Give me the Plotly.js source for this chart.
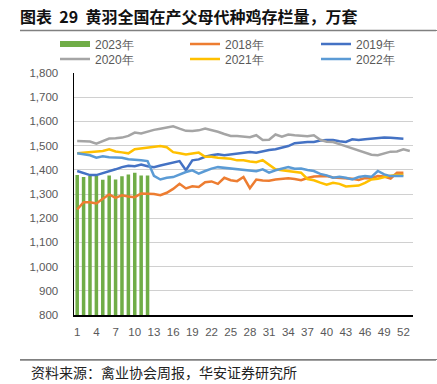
<!DOCTYPE html>
<html><head><meta charset="utf-8">
<script src="https://cdn.plot.ly/plotly-3.0.1.min.js"></script>
<style>
html,body{margin:0;padding:0;background:#fff}
#wrap{position:relative;width:437px;height:384px}
#chart{width:437px;height:384px}
.rule{position:absolute;left:20px;width:417px;height:0;border-top:1.5px solid #808080;pointer-events:none}
</style>
</head><body><div id="wrap"><div id="chart"></div><div class="rule" style="top:30px"></div><div class="rule" style="top:359px"></div></div>
<script>
const weeks = [1,2,3,4,5,6,7,8,9,10,11,12,13,14,15,16,17,18,19,20,21,22,23,24,25,26,27,28,29,30,31,32,33,34,35,36,37,38,39,40,41,42,43,44,45,46,47,48,49,50,51,52,53];
const tickWeeks = [1,4,7,10,13,16,19,22,25,28,31,34,37,40,43,46,49,52];

const s2023 = [1378,1370,1374,1374,1359,1376,1360,1373,1381,1388,1376,1376];
const s2018 = [1236,1266,1266,1261,1280,1298,1284,1295,1290,1287,1302,1302,1300,1295,1305,1321,1342,1323,1332,1329,1349,1352,1342,1367,1357,1353,1370,1324,1360,1356,1355,1360,1364,1365,1362,1357,1366,1372,1373,1374,1368,1366,1366,1363,1358,1366,1365,1374,1372,1364,1388,1388];
const s2019 = [1395,1388,1378,1378,1385,1395,1402,1411,1417,1415,1422,1415,1411,1418,1425,1432,1436,1398,1439,1443,1454,1460,1464,1460,1464,1468,1471,1474,1471,1478,1482,1485,1492,1498,1510,1514,1515,1515,1521,1523,1523,1518,1515,1526,1523,1526,1528,1533,1533,1532,1531,1528];
const s2020 = [1519,1519,1517,1508,1520,1529,1530,1533,1540,1554,1550,1559,1565,1570,1574,1580,1570,1561,1560,1563,1570,1565,1557,1548,1540,1540,1536,1535,1543,1523,1524,1546,1537,1546,1543,1540,1539,1543,1524,1516,1515,1506,1497,1488,1480,1471,1462,1460,1468,1475,1476,1485,1478];
const s2021 = [1468,1470,1471,1473,1478,1485,1476,1472,1468,1485,1488,1490,1495,1498,1493,1473,1468,1463,1467,1471,1454,1454,1450,1447,1446,1439,1439,1434,1431,1440,1422,1402,1398,1395,1391,1388,1362,1357,1347,1338,1346,1342,1331,1332,1335,1346,1360,1363,1371,1376,1379,1378];
const s2022 = [1468,1464,1460,1450,1456,1452,1452,1450,1444,1440,1439,1436,1375,1360,1367,1370,1381,1391,1398,1384,1395,1405,1411,1408,1407,1405,1402,1398,1394,1402,1388,1398,1405,1411,1404,1405,1399,1395,1383,1377,1367,1371,1367,1360,1370,1374,1371,1395,1381,1374,1374,1374];

const W = 437, H = 384, L = 74, R = 24, T = 73, B = 69;
const PW = W - L - R, PH = H - T - B;
const px = x => (x - L) / PW;
const py = y => (H - B - y) / PH;

function line(name, ys, color, leg) {
  return {type:'scatter', mode:'lines', name:name, x:weeks.slice(0, ys.length), y:ys,
    line:{color:color, width:2.5}, legend:leg, hoverinfo:'skip'};
}

const data = [
  {type:'bar', name:'2023年', x:weeks.slice(0, s2023.length), y:s2023, marker:{color:'#70ad47'}, width:0.55, showlegend:false, hoverinfo:'skip'},
  {type:'scatter', mode:'lines', name:'2023年', x:[null], y:[null], line:{color:'#70ad47', width:6}, legend:'legend'},
  line('2018年', s2018, '#ed7d31', 'legend2'),
  line('2019年', s2019, '#4472c4', 'legend3'),
  line('2020年', s2020, '#a5a5a5', 'legend4'),
  line('2021年', s2021, '#ffc000', 'legend5'),
  line('2022年', s2022, '#5b9bd5', 'legend6')
];

const tickFont = {family:'Liberation Sans, Arial, sans-serif', size:11.5, color:'#595959'};
function leg(xLeft, yMid) {
  return {orientation:'h', xref:'container', yref:'container', xanchor:'left', yanchor:'middle',
    x:xLeft/W, y:1-yMid/H, itemwidth:30, bgcolor:'rgba(0,0,0,0)', borderwidth:0,
    font:{family:'Liberation Sans, Arial, sans-serif', size:12, color:'#595959'}};
}

const layout = {
  width:W, height:H, margin:{l:L, r:R, t:T, b:B, autoexpand:false}, paper_bgcolor:'#fff', plot_bgcolor:'#fff',
  showlegend:true,
  title:{text:'图表  29  黄羽全国在产父母代种鸡存栏量，万套', xref:'container', yref:'container',
    x:20/W, xanchor:'left', y:1-17/H, yanchor:'middle', automargin:false,
    font:{family:'Noto Sans CJK SC, sans-serif', size:16, weight:'bold', color:'#111'}},
  legend:leg(55, 44), legend2:leg(185, 44), legend3:leg(316, 44),
  legend4:leg(55, 59), legend5:leg(185, 59), legend6:leg(316, 59),
  xaxis:{range:[0.5, 53.5], tickmode:'array', tickvals:tickWeeks, showgrid:false, zeroline:false, automargin:false,
    showline:true, linecolor:'#000', linewidth:1.5, ticks:'', tickfont:tickFont, ticklabelstandoff:6, fixedrange:true},
  yaxis:{range:[800, 1800], dtick:100, tick0:800, tickformat:',d', showgrid:true, gridcolor:'#d0d0d0', gridwidth:1, automargin:false,
    zeroline:false, showline:true, linecolor:'#000', linewidth:1.5, ticks:'', tickfont:tickFont, ticklabelstandoff:12, fixedrange:true},
  shapes:[
    {type:'line', xref:'paper', yref:'paper', x0:px(20), x1:px(436), y0:py(30.5), y1:py(30.5), line:{color:'#808080', width:1.5}},
    {type:'line', xref:'paper', yref:'paper', x0:px(20), x1:px(436), y0:py(360), y1:py(360), line:{color:'#808080', width:1.5}}
  ],
  annotations:[
    {xref:'paper', yref:'paper', x:px(29), y:py(372), xanchor:'left', yanchor:'middle', showarrow:false,
     text:'资料来源：禽业协会周报，华安证券研究所', font:{family:'Noto Sans CJK SC, sans-serif', size:14, color:'#222'}}
  ]
};

Plotly.newPlot('chart', data, layout, {staticPlot:true, displayModeBar:false});
</script></body></html>
